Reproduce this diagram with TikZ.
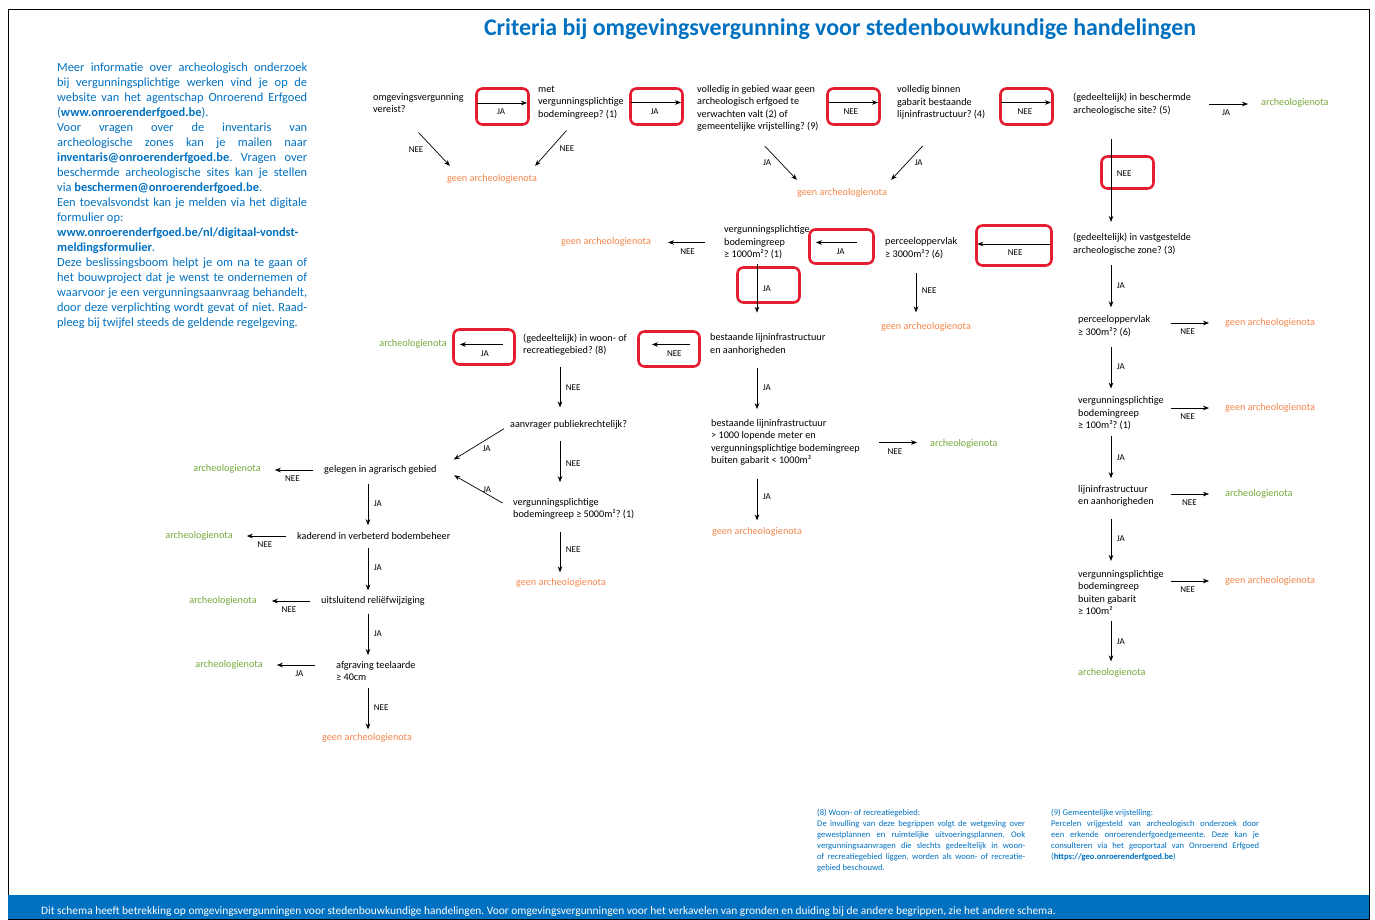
\documentclass[tikz,border=0pt]{standalone}
\usepackage{fontspec}
\setmainfont{Carlito}
\usetikzlibrary{arrows.meta}
\frenchspacing
\definecolor{oeblue}{RGB}{0,112,192}
\definecolor{geenorange}{RGB}{243,134,74}
\definecolor{notagreen}{RGB}{118,168,58}
\definecolor{boxred}{RGB}{228,30,48}
\newcommand\qfont{\fontsize{10.2pt}{12.5pt}\selectfont}
\newcommand\labfont{\fontsize{9pt}{10pt}\selectfont}
\newcommand\sidefont{\fontsize{12.4pt}{15pt}\selectfont}
\newcommand\notefont{\fontsize{8.6pt}{11pt}\selectfont}
\tikzset{
  quest/.style={anchor=west, align=left, inner sep=0pt, font=\qfont},
  geen/.style={inner sep=0pt, font=\qfont, text=geenorange},
  nota/.style={inner sep=0pt, font=\qfont, text=notagreen},
  redbox/.style={draw=boxred, line width=2.6pt, rounded corners=6pt, inner sep=0pt},
  arr/.style={-{Stealth[length=6pt,width=4.6pt]}, line width=0.7pt},
  lab/.style={font=\labfont, inner sep=0.5pt},
  lb/.style={lab, below=5pt},
  lr/.style={lab, right=5pt},
  bluetext/.style={text=oeblue, inner sep=0pt, align=justify},
}

\begin{document}
\begin{tikzpicture}[x=1pt, y=-1pt]
    \useasboundingbox (0,0) rectangle (1375,919);
    % Frame and footer
    \draw[line width=0.8pt] (8,9) rectangle (1369,919);
    \fill[oeblue] (8,895) rectangle (1369,919);
    \node[anchor=west, text=white, inner sep=0pt, font=\fontsize{11.4pt}{12pt}\selectfont] (footer) at (41,912)
        {Dit schema heeft betrekking op omgevingsvergunningen voor stedenbouwkundige handelingen. Voor omgevingsvergunningen voor het verkavelen van gronden en duiding bij de andere begrippen, zie het andere schema.};
    % Title and texts
    \node[text=oeblue, inner sep=0pt, font=\fontsize{23.9pt}{28pt}\selectfont\bfseries] (title) at (840,29)
        {Criteria bij omgevingsvergunning voor stedenbouwkundige handelingen};
    \node[bluetext, anchor=north west, text width=250pt, font=\sidefont] (info) at (57,62.5)
        {Meer informatie over archeologisch onderzoek\linebreak
         bij vergunningsplichtige werken vind je op de\linebreak
         website van het agentschap Onroerend Erfgoed\linebreak
         (\textbf{www.onroerenderfgoed.be}).\\
         Voor vragen over de inventaris van\linebreak
         archeologische zones kan je mailen naar\linebreak
         \textbf{inventaris@onroerenderfgoed.be}. Vragen over\linebreak
         beschermde archeologische sites kan je stellen\linebreak
         via \textbf{beschermen@onroerenderfgoed.be}.\\
         Een toevalsvondst kan je melden via het digitale\linebreak
         formulier op:\\
         \textbf{www.onroerenderfgoed.be/nl/digitaal-vondst-}\\
         \textbf{meldingsformulier}.\\
         Deze beslissingsboom helpt je om na te gaan of\linebreak
         het bouwproject dat je wenst te ondernemen of\linebreak
         waarvoor je een vergunningsaanvraag behandelt,\linebreak
         door deze verplichting wordt gevat of niet. Raad-\linebreak
         pleeg bij twijfel steeds de geldende regelgeving.};
    \node[bluetext, anchor=north west, text width=208pt, font=\notefont] (note8) at (817,809)
        {(8) Woon- of recreatiegebied:\\
         De invulling van deze begrippen volgt de wetgeving over\linebreak
         gewestplannen en ruimtelijke uitvoeringsplannen. Ook\linebreak
         vergunningsaanvragen die slechts gedeeltelijk in woon-\linebreak
         of recreatiegebied liggen, worden als woon- of recreatie-\linebreak
         gebied beschouwd.};
    \node[bluetext, anchor=north west, text width=208pt, font=\notefont] (note9) at (1051,809)
        {(9) Gemeentelijke vrijstelling:\\
         Percelen vrijgesteld van archeologisch onderzoek door\linebreak
         een erkende onroerenderfgoedgemeente. Deze kan je\linebreak
         consulteren via het geoportaal van Onroerend Erfgoed\linebreak
         (\textbf{https://geo.onroerenderfgoed.be})};
    % Columns
    \coordinate (cL) at (368,0);
    \coordinate (cM) at (560,0);
    \coordinate (c9) at (757,0);
    \coordinate (c7) at (916,0);
    \coordinate (cR) at (1111,0);
    % Red boxes
    \node[redbox, minimum width=52pt, minimum height=36pt] (r1) at (502.5,106.5) {};
    \node[redbox, minimum width=52pt, minimum height=36pt] (r2) at (656.5,106.5) {};
    \node[redbox, minimum width=52pt, minimum height=36pt] (r3) at (853.5,106.5) {};
    \node[redbox, minimum width=52pt, minimum height=36pt] (r4) at (1026.5,106.5) {};
    \node[redbox, minimum width=52pt, minimum height=32pt] (r5) at (1127.5,172.5) {};
    \node[redbox, minimum width=75pt, minimum height=40pt] (r6) at (1014,245.5) {};
    \node[redbox, minimum width=64pt, minimum height=34pt] (r7) at (841.5,246.5) {};
    \node[redbox, minimum width=62pt, minimum height=35pt] (r8) at (768.5,285) {};
    \node[redbox, minimum width=61pt, minimum height=35pt] (r9) at (669,349) {};
    \node[redbox, minimum width=61pt, minimum height=35pt] (r10) at (484,347) {};
    % Questions
    \node[quest] (q1) at (373,103) {omgevingsvergunning\\vereist?};
    \node[quest] (q2) at (538,102.5) {met\\vergunningsplichtige\\bodemingreep? (1)};
    \node[quest] (q3) at (697,108.5) {volledig in gebied waar geen\\archeologisch erfgoed te\\verwachten valt (2) of\\gemeentelijke vrijstelling? (9)};
    \node[quest] (q4) at (897,102.5) {volledig binnen\\gabarit bestaande\\lijninfrastructuur? (4)};
    \node[quest] (q5) at (1073,104) {(gedeeltelijk) in beschermde\\archeologische site? (5)};
    \node[quest] (q6) at (1073,244) {(gedeeltelijk) in vastgestelde\\archeologische zone? (3)};
    \node[quest] (q7) at (885,248) {perceeloppervlak\\≥ 3000m²? (6)};
    \node[quest] (q8) at (724,242.5) {vergunningsplichtige\\bodemingreep\\≥ 1000m²? (1)};
    \node[quest] (q9) at (710,344.5) {bestaande lijninfrastructuur\\en aanhorigheden};
    \node[quest] (q10) at (523,344.5) {(gedeeltelijk) in woon- of\\recreatiegebied? (8)};
    \node[quest] (q11) at (711,442.5) {bestaande lijninfrastructuur\\> 1000 lopende meter en\\vergunningsplichtige bodemingreep\\buiten gabarit < 1000m²};
    \node[quest] (q12) at (510,425) {aanvrager publiekrechtelijk?};
    \node[quest] (q13) at (513,509) {vergunningsplichtige\\bodemingreep ≥ 5000m²? (1)};
    \node[quest] (q14) at (324,470) {gelegen in agrarisch gebied};
    \node[quest] (q15) at (297,536) {kaderend in verbeterd bodembeheer};
    \node[quest] (q16) at (321,601) {uitsluitend reliëfwijziging};
    \node[quest] (q17) at (336,671) {afgraving teelaarde\\≥ 40cm};
    \node[quest] (q18) at (1078,326) {perceeloppervlak\\≥ 300m²? (6)};
    \node[quest] (q19) at (1078,413.5) {vergunningsplichtige\\bodemingreep\\≥ 100m²? (1)};
    \node[quest] (q20) at (1078,496) {lijninfrastructuur\\en aanhorigheden};
    \node[quest] (q21) at (1078,592.5) {vergunningsplichtige\\bodemingreep\\buiten gabarit\\≥ 100m²};
    % Outcomes
    \node[geen] (o1) at (492,179) {geen archeologienota};
    \node[geen] (o3) at (842,193) {geen archeologienota};
    \node[nota, anchor=west] (n5) at (1261,103) {archeologienota};
    \node[geen] (o8) at (606,242) {geen archeologienota};
    \node[geen] (o7) at (926,327) {geen archeologienota};
    \node[nota] (n10) at (413,344) {archeologienota};
    \node[nota, anchor=west] (n11) at (930,444) {archeologienota};
    \node[geen] (o11) at (757,532) {geen archeologienota};
    \node[geen] (o13) at (561,583) {geen archeologienota};
    \node[nota] (n14) at (227,469) {archeologienota};
    \node[nota] (n15) at (199,536) {archeologienota};
    \node[nota] (n16) at (223,601) {archeologienota};
    \node[nota] (n17) at (229,665) {archeologienota};
    \node[geen] (o17) at (367,738) {geen archeologienota};
    \node[geen, anchor=west] (o18) at (1225,323) {geen archeologienota};
    \node[geen, anchor=west] (o19) at (1225,408) {geen archeologienota};
    \node[nota, anchor=west] (n20) at (1225,494) {archeologienota};
    \node[geen, anchor=west] (o21) at (1225,581) {geen archeologienota};
    \node[nota, anchor=west] (n21) at (1078,673) {archeologienota};
    % Top row
    \draw[arr, shorten <=13pt, shorten >=11pt] (q1.east) -- node[lb] {JA} (q1.east -| q2.west);
    \draw[arr, shorten <=7pt, shorten >=16pt] (q2.east) -- node[lb, pos=.42] {JA} (q2.east -| q3.west);
    \draw[arr, shorten <=10pt, shorten >=19pt] (q4.west -| q3.east) -- node[lb, pos=.41] {NEE} (q4.west);
    \draw[arr, shorten <=16pt, shorten >=22pt] (q4.east) -- node[lb, pos=.45] {NEE} (q4.east -| q5.west);
    \draw[arr, shorten <=18pt, shorten >=13pt] (q5.east) -- node[lb] {JA} (q5.east -| n5.west);
    \draw[arr] ([yshift=-19.5pt]q1.south) -- node[lab, left=10pt] {NEE} ([xshift=3pt, yshift=8.5pt]o1.north west);
    \draw[arr] ([xshift=-14.5pt, yshift=-11.3pt]q2.south) -- node[lab, right=8pt] {NEE} ([xshift=-2pt, yshift=8.5pt]o1.north east);
    \draw[arr] ([xshift=7pt, yshift=-14.3pt]q3.south) -- node[lab, left=9pt] {JA} ([yshift=8.5pt]o3.north west);
    \draw[arr] ([xshift=-18.5pt, yshift=-26.3pt]q4.south) -- node[lab, right=7pt] {JA} ([xshift=4pt, yshift=8.5pt]o3.north east);
    % Second row
    \draw[arr, shorten <=24pt, shorten >=11pt] (q5.south -| cR) -- node[lr] {NEE} (q6.north -| cR);
    \draw[arr, shorten <=23pt, shorten >=20pt] (q6.west) -- node[lb] {NEE} (q6.west -| q7.east);
    \draw[arr, shorten <=28pt, shorten >=6pt] (q8.east -| q7.west) -- node[lb, pos=.59] {JA} (q8.east);
    \draw[arr, shorten <=19pt, shorten >=17pt] (q8.west) -- node[lb] {NEE} (q8.west -| o8.east);
    \draw[arr, shorten <=14pt, shorten >=10pt] (q7.south -| c7) -- node[lr] {NEE} (o7.north -| c7);
    \draw[arr, shorten <=5pt, shorten >=21pt] (q8.south -| c9) -- node[lr, pos=.4] {JA} (q9.north -| c9);
    % Third row
    \draw[arr, shorten <=20pt, shorten >=25pt] (q9.west) -- node[lb, pos=.43] {NEE} (q9.west -| q10.east);
    \draw[arr, shorten <=20pt, shorten >=13pt] (q10.west) -- node[lb] {JA} (q10.west -| n10.east);
    \draw[arr, shorten <=13pt, shorten >=10pt] (q9.south -| c9) -- node[lr] {JA} (q11.north -| c9);
    \draw[arr, shorten <=19pt, shorten >=13pt] (q11.east) -- node[lb] {NEE} (q11.east -| n11.west);
    \draw[arr, shorten <=13pt, shorten >=7pt] (q11.south -| c9) -- node[lr] {JA} (o11.north -| c9);
    % Middle branch
    \draw[arr, shorten <=11pt, shorten >=13pt] (q10.south -| cM) -- node[lr] {NEE} (q12.north -| cM);
    \draw[arr, shorten <=11pt, shorten >=16pt] (q12.south -| cM) -- node[lr] {NEE} (q13.north -| cM);
    \draw[arr, shorten <=12pt, shorten >=6pt] (q13.south -| cM) -- node[lr] {NEE} (o13.north -| cM);
    \draw[arr, shorten <=7pt, shorten >=20pt] (q12.west) -- node[lb, pos=.32] {JA} (q14.east);
    \draw[arr, shorten <=12pt, shorten >=20pt] (q13.west) -- node[lab, above=1pt, pos=.34] {JA} (q14.north east);
    % Left branch
    \draw[arr, shorten <=11pt, shorten >=14pt] (q14.west) -- node[lb] {NEE} (q14.west -| n14.east);
    \draw[arr, shorten <=11pt, shorten >=14pt] (q15.west) -- node[lb] {NEE} (q15.west -| n15.east);
    \draw[arr, shorten <=11pt, shorten >=15pt] (q16.west) -- node[lb] {NEE} (q16.west -| n16.east);
    \draw[arr, shorten <=21pt, shorten >=14pt] (n17.east -| q17.west) -- node[lb] {JA} (n17.east);
    \draw[arr, shorten <=9pt, shorten >=7pt] (q14.south -| cL) -- node[lr] {JA} (q15.north -| cL);
    \draw[arr, shorten <=8pt, shorten >=6pt] (q15.south -| cL) -- node[lr] {JA} (q16.north -| cL);
    \draw[arr, shorten <=8pt, shorten >=6pt] (q16.south -| cL) -- node[lr] {JA} (q17.north -| cL);
    \draw[arr, shorten <=7pt, shorten >=4pt] (q17.south -| cL) -- node[lr] {NEE} (o17.north -| cL);
    % Right branch
    \draw[arr, shorten <=10pt, shorten >=8pt] (q6.south -| cR) -- node[lr] {JA} (q18.north -| cR);
    \draw[arr, shorten <=10pt, shorten >=8pt] (q18.south -| cR) -- node[lr] {JA} (q19.north -| cR);
    \draw[arr, shorten <=6pt, shorten >=7pt] (q19.south -| cR) -- node[lr] {JA} (q20.north -| cR);
    \draw[arr, shorten <=12pt, shorten >=9pt] (q20.south -| cR) -- node[lr] {JA} (q21.north -| cR);
    \draw[arr, shorten <=6pt, shorten >=7pt] (q21.south -| cR) -- node[lr] {JA} (n21.north -| cR);
    \draw[arr, shorten <=21pt, shorten >=16pt] (o18.west -| q18.east) -- node[lb] {NEE} (o18.west);
    \draw[arr, shorten <=7pt, shorten >=16pt] (o19.west -| q19.east) -- node[lb, pos=.39] {NEE} (o19.west);
    \draw[arr, shorten <=17pt, shorten >=16pt] (n20.west -| q20.east) -- node[lb] {NEE} (n20.west);
    \draw[arr, shorten <=7pt, shorten >=16pt] (o21.west -| q21.east) -- node[lb, pos=.39] {NEE} (o21.west);
\end{tikzpicture}
\end{document}
